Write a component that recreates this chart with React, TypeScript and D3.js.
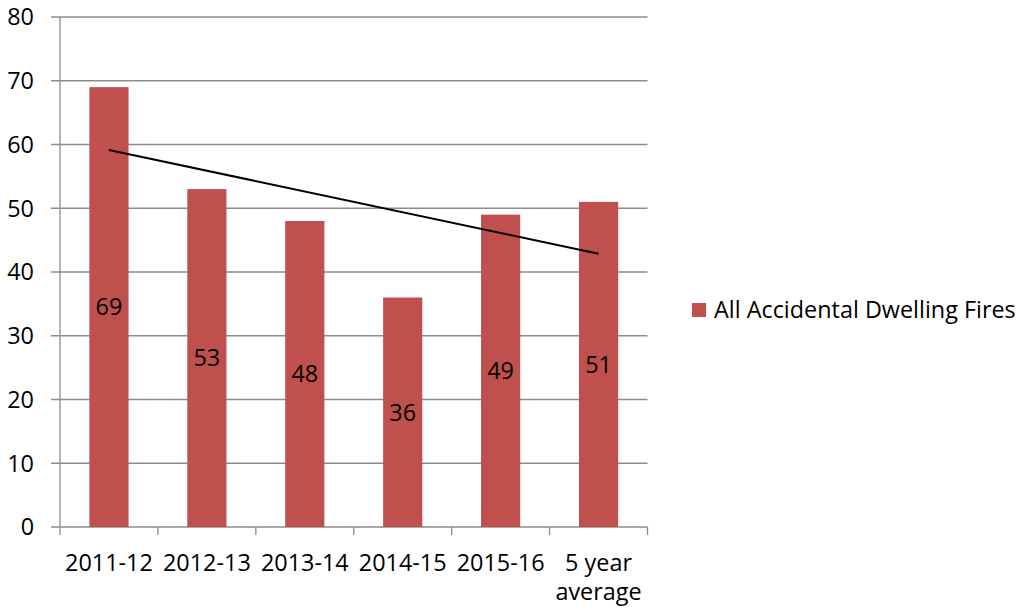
import React from "react";
import * as d3 from "d3";

const categories = ["2011-12", "2012-13", "2013-14", "2014-15", "2015-16", "5 year\naverage"];
const values = [69, 53, 48, 36, 49, 51];
const yTicks = [0, 10, 20, 30, 40, 50, 60, 70, 80];
const seriesName = "All Accidental Dwelling Fires";

const W = 1019;
const H = 611;
const FONT = "'Open Sans', 'Noto Sans', sans-serif";
const FS = 23.4;
const BAR = "#C0504D";
const GRID = "#8c8c8c";

export default function App() {
  const x0 = 60, x1 = 647.5, yTop = 17, yBot = 527;
  const x = d3.scaleBand<string>().domain(categories).range([x0, x1]).paddingInner(0.6).paddingOuter(0.3);
  const xb = d3.scaleBand<string>().domain(categories).range([x0, x1]);
  const y = d3.scaleLinear().domain([0, 80]).range([yBot, yTop]);

  // linear trendline (least squares) over category index
  const n = values.length;
  const idx = d3.range(1, n + 1);
  const mx = d3.mean(idx)!;
  const my = d3.mean(values)!;
  const sxy = d3.sum(idx, (i, k) => (i - mx) * (values[k] - my));
  const sxx = d3.sum(idx, (i) => (i - mx) ** 2);
  const slope = sxy / sxx;
  const trend = idx.map((i, k) => ({ c: categories[k], v: my + slope * (i - mx) }));
  const line = d3
    .line<{ c: string; v: number }>()
    .x((d) => xb(d.c)! + xb.bandwidth() / 2)
    .y((d) => y(d.v));
  const tEnds = [trend[0], trend[n - 1]];

  return (
    <svg width={W} height={H} style={{ position: "absolute", left: 0, top: 0, background: "#fff" }} fontFamily={FONT}>
      {/* gridlines + y ticks */}
      {yTicks.map((t) => (
        <g key={t}>
          <line x1={51} x2={x1} y1={y(t)} y2={y(t)} stroke={GRID} strokeWidth={1.3} />
          <text x={34} y={y(t)} dy="0.36em" textAnchor="end" fontSize={FS} fill="#000">
            {t}
          </text>
        </g>
      ))}
      {/* y axis */}
      <line x1={x0} x2={x0} y1={yTop} y2={yBot + 8} stroke={GRID} strokeWidth={1.3} />
      {/* x ticks */}
      {categories.map((c) => (
        <line key={c} x1={xb(c)! + xb.bandwidth()} x2={xb(c)! + xb.bandwidth()} y1={yBot} y2={yBot + 8} stroke={GRID} strokeWidth={1.3} />
      ))}
      {/* bars */}
      {categories.map((c, i) => (
        <rect key={c} x={x(c)!} y={y(values[i])} width={x.bandwidth()} height={y(0) - y(values[i])} fill={BAR} />
      ))}
      {/* trendline */}
      <path d={line(tEnds)!} fill="none" stroke="#000" strokeWidth={2} />
      {/* data labels */}
      {categories.map((c, i) => (
        <text key={c} x={x(c)! + x.bandwidth() / 2} y={y(values[i] / 2)} dy="0.36em" textAnchor="middle" fontSize={FS} fill="#000">
          {values[i]}
        </text>
      ))}
      {/* x labels */}
      {categories.map((c) => (
        <text key={c} x={xb(c)! + xb.bandwidth() / 2} y={570.5} textAnchor="middle" fontSize={FS} fill="#000">
          {c.split("\n").map((s, k) => (
            <tspan key={k} x={xb(c)! + xb.bandwidth() / 2} dy={k === 0 ? 0 : 29}>
              {s}
            </tspan>
          ))}
        </text>
      ))}
      {/* legend */}
      <rect x={692} y={303} width={14} height={14} fill={BAR} />
      <text x={714} y={318} fontSize={FS} fill="#000">
        {seriesName}
      </text>
    </svg>
  );
}
